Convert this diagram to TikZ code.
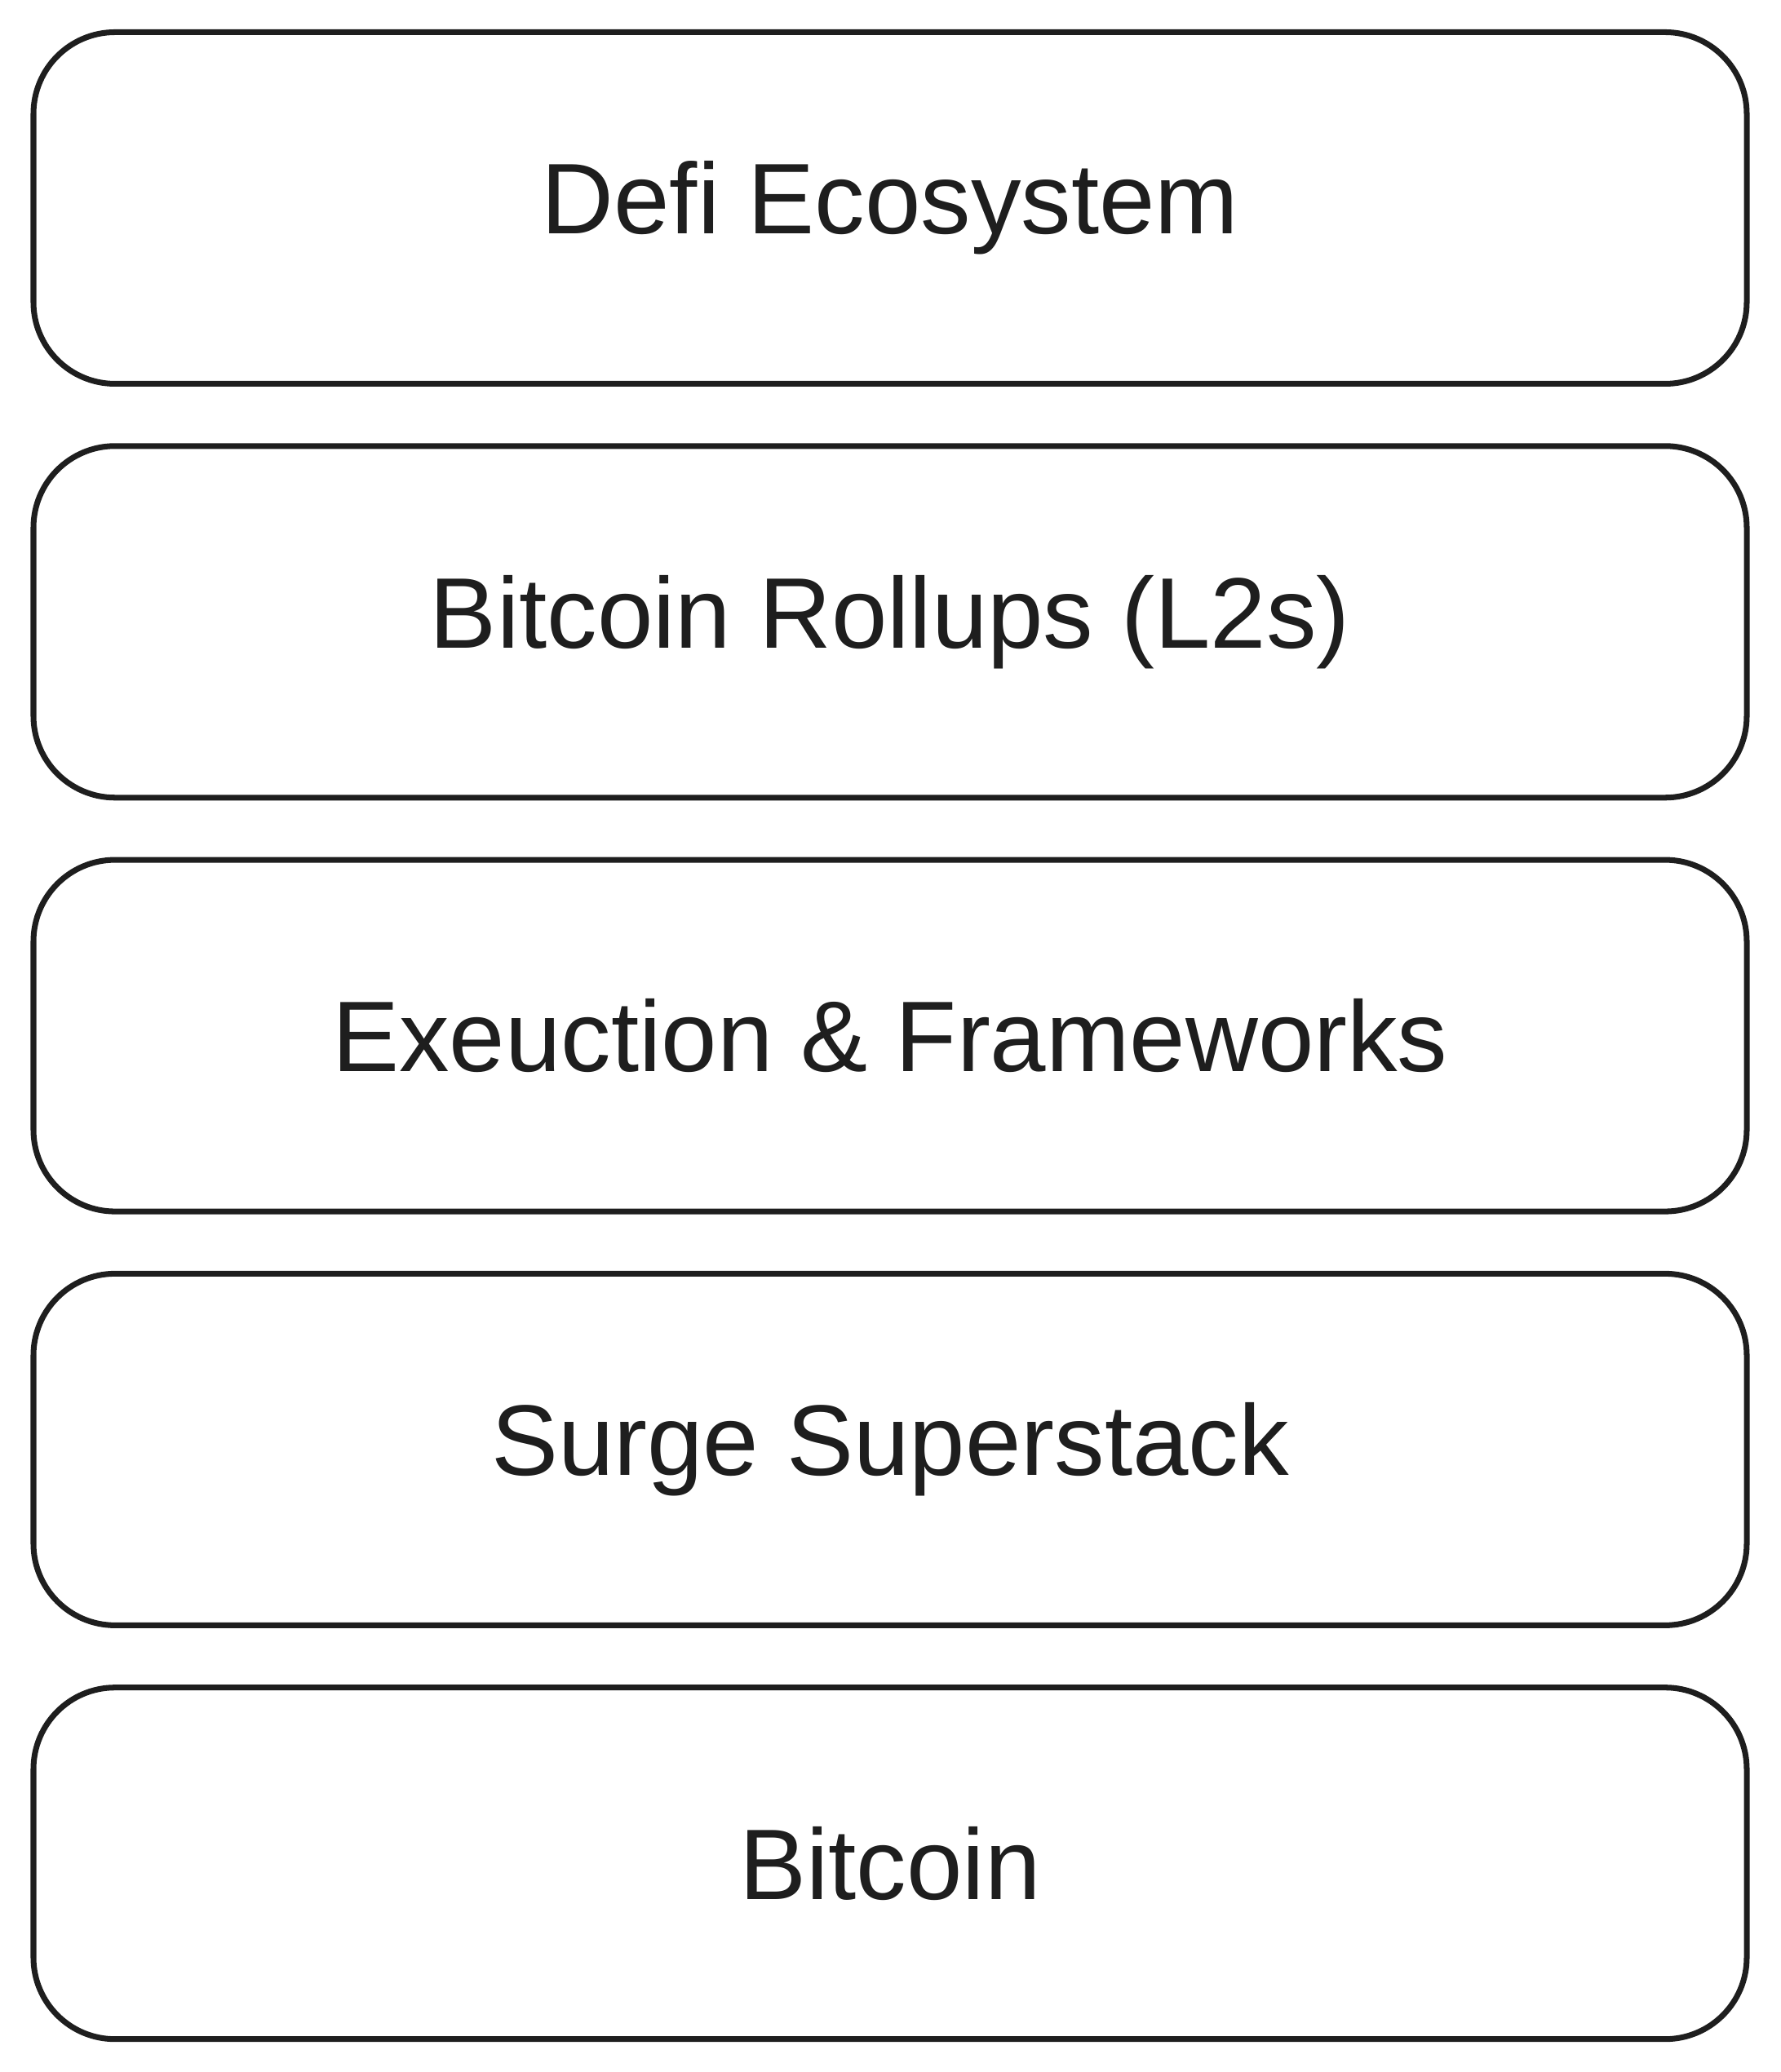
\documentclass[tikz,border=0pt]{standalone}
\usepackage{fontspec}
\setmainfont{Liberation Sans}
\definecolor{ink}{HTML}{1E1E1E}

\begin{document}
\begin{tikzpicture}[layerbox/.style={draw=ink, text=ink, line width=2pt, rounded corners=1cm,
    minimum width=21cm, minimum height=4.31cm, font=\fontsize{35}{42}\selectfont}]
  \useasboundingbox (0,0) rectangle (21.82,25.4);
  \node[layerbox] (defi) at (10.91,22.85) {Defi Ecosystem};
  \node[layerbox] (rollups) at (10.91,17.777) {Bitcoin Rollups (L2s)};
  \node[layerbox] (exec) at (10.91,12.704) {Exeuction \& Frameworks};
  \node[layerbox] (surge) at (10.91,7.631) {Surge Superstack};
  \node[layerbox] (btc) at (10.91,2.558) {Bitcoin};
\end{tikzpicture}
\end{document}
